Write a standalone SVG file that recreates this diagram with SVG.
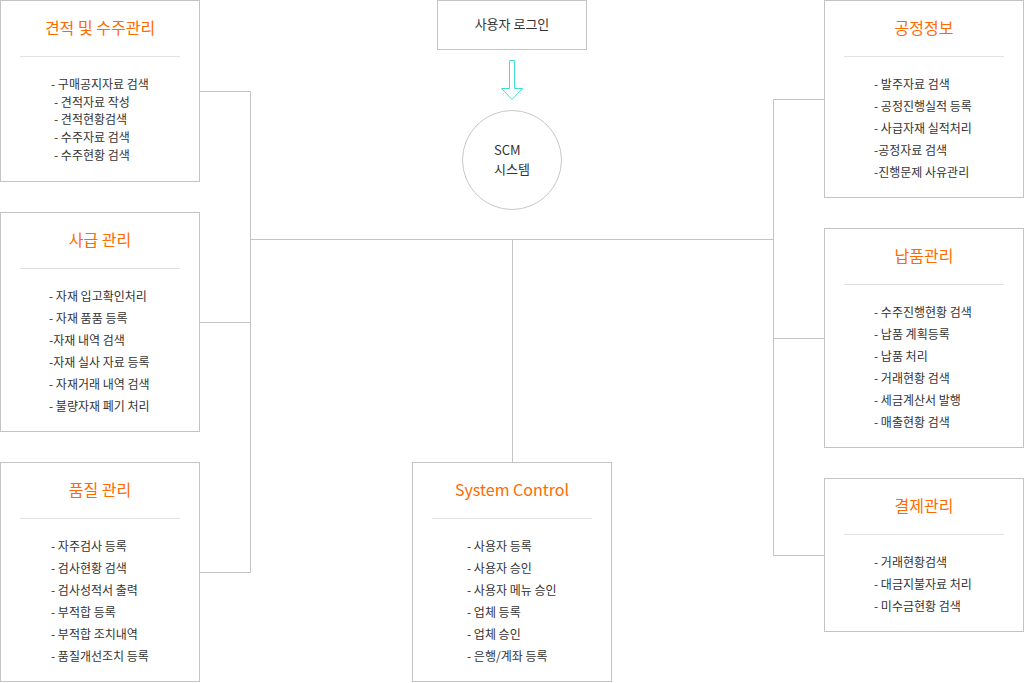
<svg xmlns="http://www.w3.org/2000/svg" width="1024" height="683" viewBox="0 0 1024 683">
<style>
.box{fill:#fff;stroke:#c4c4c4;stroke-width:1}
.sep{stroke:#e2e2e2;stroke-width:1}
.title{font-family:"Noto Sans CJK KR","Noto Sans",sans-serif;font-size:16px;fill:#ff6a00;text-anchor:middle}
.item{font-family:"Noto Sans CJK KR","Noto Sans",sans-serif;font-size:12px;fill:#333}
.conn{stroke:#c4c4c4;stroke-width:1;fill:none}
</style>
<rect width="1024" height="683" fill="#fff"/>
<g id="connectors">
<path class="conn" d="M200 91.5H250.5V572.5H200M200 322.5H250.5M250.5 239.5H773.5M512.5 239.5V462M824 99.5H773.5V555.5H824M773.5 338.5H824"/>
<path d="M509.5 60.5H514.5V88.5H522.5L512 99.5L501.5 88.5H509.5Z" fill="none" stroke="#3de0d2" stroke-width="1"/>
</g>
<g id="login">
<rect class="box" x="437.5" y="0.5" width="149" height="49"/>
<text class="item" x="512" y="29" text-anchor="middle" font-size="13" style="font-size:13px">사용자 로그인</text>
</g>
<g id="scm">
<circle cx="512" cy="160" r="49.5" fill="#fff" stroke="#c8c8c8"/>
<text class="item" x="494" y="155" style="font-size:13px">SCM</text>
<text class="item" x="494" y="174" style="font-size:13px">시스템</text>
</g>
<g id="estimate">
<rect class="box" x="0.5" y="0.5" width="199" height="181"/>
<text class="title" x="100" y="34">견적 및 수주관리</text>
<line class="sep" x1="20" y1="56.5" x2="180" y2="56.5"/>
<text class="item" x="51" y="89">- 구매공지자료 검색</text>
<text class="item" x="54" y="107">- 견적자료 작성</text>
<text class="item" x="54" y="124">- 견적현황검색</text>
<text class="item" x="54" y="142">- 수주자료 검색</text>
<text class="item" x="54" y="160">- 수주현황 검색</text>
</g>
<g id="subcontract">
<rect class="box" x="0.5" y="212.5" width="199" height="219"/>
<text class="title" x="100" y="246">사급 관리</text>
<line class="sep" x1="20" y1="268.5" x2="180" y2="268.5"/>
<text class="item" x="49" y="301">- 자재 입고확인처리</text>
<text class="item" x="49" y="323">- 자재 품품 등록</text>
<text class="item" x="49" y="345">-자재 내역 검색</text>
<text class="item" x="49" y="367">-자재 실사 자료 등록</text>
<text class="item" x="49" y="389">- 자재거래 내역 검색</text>
<text class="item" x="49" y="411">- 불량자재 폐기 처리</text>
</g>
<g id="quality">
<rect class="box" x="0.5" y="462.5" width="199" height="219"/>
<text class="title" x="100" y="496">품질 관리</text>
<line class="sep" x1="20" y1="518.5" x2="180" y2="518.5"/>
<text class="item" x="51" y="551">- 자주검사 등록</text>
<text class="item" x="51" y="573">- 검사현황 검색</text>
<text class="item" x="51" y="595">- 검사성적서 출력</text>
<text class="item" x="51" y="617">- 부적합 등록</text>
<text class="item" x="51" y="639">- 부적합 조치내역</text>
<text class="item" x="51" y="661">- 품질개선조치 등록</text>
</g>
<g id="system">
<rect class="box" x="412.5" y="462.5" width="199" height="219"/>
<text class="title" x="512" y="496">System Control</text>
<line class="sep" x1="432" y1="518.5" x2="592" y2="518.5"/>
<text class="item" x="467" y="551">- 사용자 등록</text>
<text class="item" x="467" y="573">- 사용자 승인</text>
<text class="item" x="467" y="595">- 사용자 메뉴 승인</text>
<text class="item" x="467" y="617">- 업체 등록</text>
<text class="item" x="467" y="639">- 업체 승인</text>
<text class="item" x="467" y="661">- 은행/계좌 등록</text>
</g>
<g id="process">
<rect class="box" x="824.5" y="0.5" width="199" height="197"/>
<text class="title" x="924" y="34">공정정보</text>
<line class="sep" x1="844" y1="56.5" x2="1004" y2="56.5"/>
<text class="item" x="874" y="89">- 발주자료 검색</text>
<text class="item" x="874" y="111">- 공정진행실적 등록</text>
<text class="item" x="874" y="133">- 사급자재 실적처리</text>
<text class="item" x="874" y="155">-공정자료 검색</text>
<text class="item" x="874" y="177">-진행문제 사유관리</text>
</g>
<g id="delivery">
<rect class="box" x="824.5" y="228.5" width="199" height="219"/>
<text class="title" x="924" y="262">납품관리</text>
<line class="sep" x1="844" y1="284.5" x2="1004" y2="284.5"/>
<text class="item" x="874" y="317">- 수주진행현황 검색</text>
<text class="item" x="874" y="339">- 납품 계획등록</text>
<text class="item" x="874" y="361">- 납품 처리</text>
<text class="item" x="874" y="383">- 거래현황 검색</text>
<text class="item" x="874" y="405">- 세금계산서 발행</text>
<text class="item" x="874" y="427">- 매출현황 검색</text>
</g>
<g id="payment">
<rect class="box" x="824.5" y="478.5" width="199" height="153"/>
<text class="title" x="924" y="512">결제관리</text>
<line class="sep" x1="844" y1="534.5" x2="1004" y2="534.5"/>
<text class="item" x="874" y="567">- 거래현황검색</text>
<text class="item" x="874" y="589">- 대금지불자료 처리</text>
<text class="item" x="874" y="611">- 미수금현황 검색</text>
</g>
</svg>
